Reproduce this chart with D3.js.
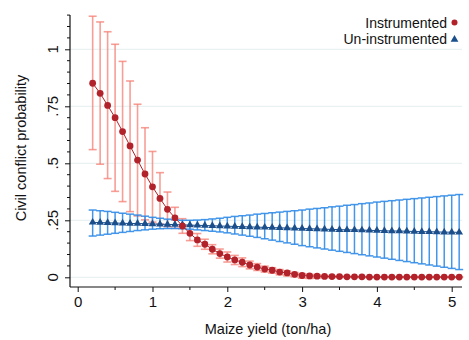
<!DOCTYPE html>
<html>
<head>
<meta charset="utf-8">
<script src="https://cdn.jsdelivr.net/npm/d3@7/dist/d3.min.js"></script>
<style>
  html, body { margin: 0; padding: 0; background: #fff; }
  svg { display: block; font-family: "Liberation Sans", Arial, sans-serif; }
</style>
</head>
<body>
<svg id="chart" width="469" height="340"></svg>
<script>
// ---- data ----
const maizeYield = [0.2,0.3,0.4,0.5,0.6,0.7,0.8,0.9,1.0,1.1,1.2,1.3,1.4,1.5,1.6,1.7,1.8,1.9,2.0,2.1,2.2,2.3,2.4,2.5,2.6,2.7,2.8,2.9,3.0,3.1,3.2,3.3,3.4,3.5,3.6,3.7,3.8,3.9,4.0,4.1,4.2,4.3,4.4,4.5,4.6,4.7,4.8,4.9,5.0,5.1];

const instrEst = [0.851,0.807,0.754,0.700,0.639,0.576,0.514,0.453,0.397,0.346,0.298,0.261,0.225,0.193,0.164,0.145,0.123,0.104,0.089,0.076,0.066,0.054,0.045,0.036,0.031,0.023,0.019,0.013,0.008,0.006,0.005,0.004,0.003,0.003,0.002,0.002,0.002,0.001,0.001,0.001,0.001,0.001,0.001,0.001,0.001,0.001,0.001,0.001,0.001,0.001];
const instrHi  = [1.145,1.120,1.077,1.022,0.947,0.861,0.759,0.656,0.552,0.459,0.374,0.307,0.257,0.225,0.192,0.167,0.143,0.124,0.111,0.096,0.085,0.071,0.060,0.049,0.042,0.034,0.028,0.021,0.016,0.013,0.010,0.008,0.006,0.005,0.004,0.003,0.003,0.002,0.002,0.002,0.002,0.002,0.002,0.002,0.002,0.002,0.002,0.002,0.002,0.002];
const instrLo  = [0.560,0.496,0.433,0.377,0.332,0.288,0.269,0.252,0.242,0.233,0.222,0.215,0.193,0.161,0.136,0.123,0.103,0.084,0.067,0.056,0.047,0.037,0.030,0.023,0.018,0.011,0.006,0.002,-0.004,-0.005,-0.003,-0.001,0.000,0.000,0.000,0.000,0.000,0.000,0.000,0.000,0.000,0.000,0.000,0.000,0.000,0.000,0.000,0.000,0.000,0.000];

const uninstrEst = [0.241,0.240,0.239,0.238,0.237,0.236,0.236,0.235,0.234,0.233,0.232,0.231,0.230,0.229,0.228,0.227,0.226,0.225,0.224,0.223,0.222,0.221,0.220,0.219,0.218,0.217,0.216,0.215,0.214,0.213,0.212,0.211,0.210,0.209,0.208,0.208,0.207,0.206,0.205,0.204,0.203,0.203,0.202,0.201,0.200,0.200,0.199,0.198,0.198,0.197];
const uninstrHi  = [0.295,0.292,0.289,0.285,0.281,0.277,0.273,0.268,0.263,0.259,0.255,0.252,0.250,0.250,0.251,0.253,0.256,0.259,0.263,0.267,0.270,0.273,0.277,0.280,0.283,0.286,0.289,0.292,0.295,0.299,0.302,0.305,0.309,0.312,0.316,0.319,0.323,0.326,0.330,0.333,0.336,0.339,0.342,0.345,0.348,0.351,0.354,0.357,0.360,0.363];
const uninstrLo  = [0.181,0.185,0.189,0.193,0.197,0.201,0.205,0.208,0.211,0.213,0.214,0.214,0.213,0.211,0.208,0.205,0.202,0.199,0.195,0.190,0.185,0.180,0.175,0.169,0.163,0.157,0.151,0.145,0.139,0.134,0.129,0.124,0.119,0.114,0.109,0.104,0.099,0.094,0.089,0.084,0.079,0.074,0.069,0.064,0.059,0.054,0.049,0.044,0.039,0.034];

const xTicks = [0,1,2,3,4,5];
const xTickLabels = ["0","1","2","3","4","5"];
const yTicks = [0,0.25,0.5,0.75,1];
const yTickLabels = ["0",".25",".5",".75","1"];
const seriesNames = ["Instrumented","Un-instrumented"];

// ---- layout ----
const svg = d3.select("#chart");
const x = d3.scaleLinear().domain([0,5]).range([77.7,451.7]);
const y = d3.scaleLinear().domain([0,1]).range([277.3,49.3]);
const axisX0 = 70, axisX1 = 462, axisY = 287, axisTop = y(1.15);

const redCI = "#f47e73", redPt = "#b2222a";
const blueCI = "#2f8be8", bluePt = "#1a4f8c";

// gridlines
svg.append("g").selectAll("line").data(yTicks).join("line")
  .attr("x1", axisX0).attr("x2", axisX1)
  .attr("y1", d => y(d)).attr("y2", d => y(d))
  .attr("stroke", "#e4eef0").attr("stroke-width", 1);

// y axis
const yAxis = d3.axisLeft(y).tickValues(yTicks).tickFormat((d,i) => yTickLabels[i]).tickSize(5).tickSizeOuter(0);
const gy = svg.append("g").attr("transform", `translate(${axisX0},0)`).call(yAxis);
gy.select(".domain").remove();
gy.selectAll(".tick text").remove();
gy.selectAll(".tick line").attr("stroke", "#111");
const yMinor = d3.range(0, 1.1501, 0.05).filter(v => Math.abs(v*4 - Math.round(v*4)) > 1e-6);
svg.append("g").selectAll("line").data(yMinor).join("line")
  .attr("x1", axisX0 - 3).attr("x2", axisX0)
  .attr("y1", d => y(d)).attr("y2", d => y(d))
  .attr("stroke", "#111");
svg.append("g").selectAll("text").data(yTicks).join("text")
  .attr("transform", d => `translate(58,${y(d)}) rotate(-90)`)
  .attr("text-anchor", "middle")
  .attr("font-size", "15px").attr("fill", "#111")
  .text((d,i) => yTickLabels[i]);
svg.append("line").attr("x1", axisX0).attr("x2", axisX0).attr("y1", axisTop).attr("y2", axisY)
  .attr("stroke", "#111").attr("stroke-width", 1.2);

// x axis
const xAxis = d3.axisBottom(x).tickValues(xTicks).tickFormat((d,i) => xTickLabels[i]).tickSize(5).tickSizeOuter(0);
const gx = svg.append("g").attr("transform", `translate(0,${axisY})`).call(xAxis);
gx.select(".domain").remove();
gx.selectAll(".tick line").attr("stroke", "#111");
gx.selectAll(".tick text").attr("font-size", "15px").attr("fill", "#111").attr("y", 9).attr("dy", "0.71em")
  .style("font-family", "'Liberation Sans', Arial, sans-serif");
const xMinor = [0.5,1.5,2.5,3.5,4.5];
svg.append("g").selectAll("line").data(xMinor).join("line")
  .attr("x1", d => x(d)).attr("x2", d => x(d))
  .attr("y1", axisY).attr("y2", axisY + 3)
  .attr("stroke", "#111");
svg.append("line").attr("x1", axisX0).attr("x2", axisX1).attr("y1", axisY).attr("y2", axisY)
  .attr("stroke", "#111").attr("stroke-width", 1.2);

// axis titles
svg.append("text").attr("x", 268).attr("y", 333.5).attr("text-anchor", "middle")
  .attr("font-size", "14.5px").attr("fill", "#111").text("Maize yield (ton/ha)");
svg.append("text").attr("transform", "translate(26,148) rotate(-90)").attr("text-anchor", "middle")
  .attr("font-size", "14.5px").attr("fill", "#111").text("Civil conflict probability");

// helper for error bars
function errorBars(lo, hi, color, opacity, width) {
  const g = svg.append("g").attr("stroke", color).attr("stroke-opacity", opacity).attr("stroke-width", width).attr("fill", "none");
  const idx = d3.range(maizeYield.length);
  g.selectAll("line.v").data(idx).join("line").attr("class", "v")
    .attr("x1", i => x(maizeYield[i])).attr("x2", i => x(maizeYield[i]))
    .attr("y1", i => y(lo[i])).attr("y2", i => y(hi[i]));
  g.selectAll("line.ch").data(idx).join("line").attr("class", "ch")
    .attr("x1", i => x(maizeYield[i]) - 4).attr("x2", i => x(maizeYield[i]) + 4)
    .attr("y1", i => y(hi[i])).attr("y2", i => y(hi[i]));
  g.selectAll("line.cl").data(idx).join("line").attr("class", "cl")
    .attr("x1", i => x(maizeYield[i]) - 4).attr("x2", i => x(maizeYield[i]) + 4)
    .attr("y1", i => y(lo[i])).attr("y2", i => y(lo[i]));
}

errorBars(instrLo, instrHi, redCI, 0.75, 1.6);
errorBars(uninstrLo, uninstrHi, blueCI, 0.9, 1.5);

const line = d3.line().x(d => x(d[0])).y(d => y(d[1]));
const triangle = d3.symbol().type(d3.symbolTriangle).size(26);

// blue series
svg.append("path").datum(maizeYield.map((v,i) => [v, uninstrEst[i]]))
  .attr("d", line).attr("fill", "none").attr("stroke", bluePt).attr("stroke-width", 1);
svg.append("g").selectAll("path").data(maizeYield.map((v,i) => [v, uninstrEst[i]])).join("path")
  .attr("d", triangle).attr("transform", d => `translate(${x(d[0])},${y(d[1])})`)
  .attr("fill", bluePt);

// red series
svg.append("path").datum(maizeYield.map((v,i) => [v, instrEst[i]]))
  .attr("d", line).attr("fill", "none").attr("stroke", redPt).attr("stroke-width", 1);
svg.append("g").selectAll("circle").data(maizeYield.map((v,i) => [v, instrEst[i]])).join("circle")
  .attr("cx", d => x(d[0])).attr("cy", d => y(d[1])).attr("r", 3.4)
  .attr("fill", redPt);

// legend
const legend = svg.append("g");
legend.append("text").attr("x", 447).attr("y", 27.5).attr("text-anchor", "end")
  .attr("font-size", "14px").attr("fill", "#111").text(seriesNames[0]);
legend.append("circle").attr("cx", 454.5).attr("cy", 22.5).attr("r", 3).attr("fill", redPt);
legend.append("text").attr("x", 447).attr("y", 44).attr("text-anchor", "end")
  .attr("font-size", "14px").attr("fill", "#111").text(seriesNames[1]);
legend.append("path").attr("d", triangle).attr("transform", "translate(454.5,39.5)").attr("fill", bluePt);
</script>
</body>
</html>
